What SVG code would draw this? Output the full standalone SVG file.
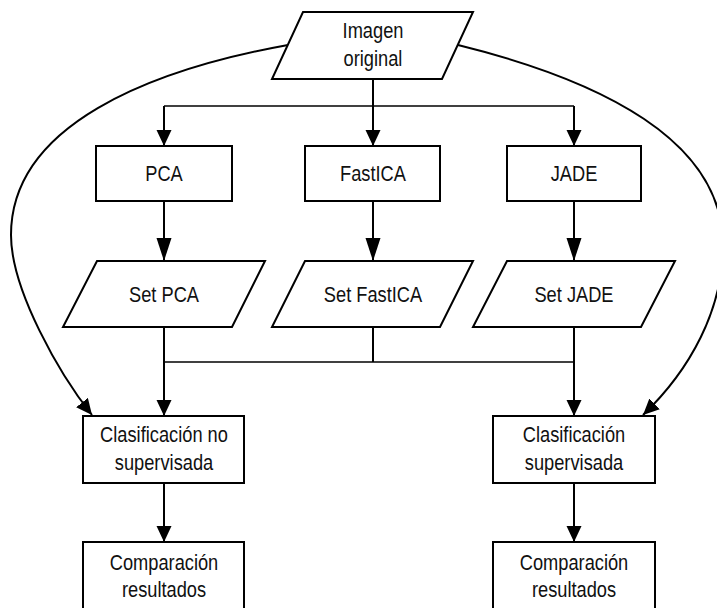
<svg xmlns="http://www.w3.org/2000/svg" width="717" height="608" viewBox="0 0 717 608">
  <style>
    .shape { fill: #ffffff; stroke: #000000; stroke-width: 2; }
    .label { font-family: "Liberation Sans Narrow", "Liberation Sans", "Arial", sans-serif; font-size: 22px; fill: #111111; text-anchor: middle; }
    .wire { fill: none; stroke: #000000; stroke-width: 2; }
    .bus { fill: none; stroke: #000000; stroke-width: 1.5; }
  </style>
  <defs>
    <marker id="arrow" markerUnits="userSpaceOnUse" markerWidth="17" markerHeight="16" refX="16" refY="7.5" orient="auto">
      <path d="M0,0 L16,7.5 L0,15 z" fill="#000000"/>
    </marker>
    <marker id="arrowLong" markerUnits="userSpaceOnUse" markerWidth="24" markerHeight="16" refX="23" refY="7.5" orient="auto">
      <path d="M0,0 L23,7.5 L0,15 z" fill="#000000"/>
    </marker>
  </defs>

  <rect width="717" height="608" fill="#ffffff"/>

  <g id="connectors">
    <!-- input image to the three decompositions -->
    <path class="wire" d="M373,79 L373,146" marker-end="url(#arrow)"/>
    <path class="bus" d="M164,106 L574,106"/>
    <path class="wire" d="M164,106 L164,146" marker-end="url(#arrow)"/>
    <path class="wire" d="M574,106 L574,146" marker-end="url(#arrow)"/>

    <!-- decompositions to their component sets -->
    <path class="wire" d="M164,201 L164,261" marker-end="url(#arrowLong)"/>
    <path class="wire" d="M373,201 L373,261" marker-end="url(#arrowLong)"/>
    <path class="wire" d="M574,201 L574,261" marker-end="url(#arrowLong)"/>

    <!-- component sets merged into both classifiers -->
    <path class="wire" d="M373,327 L373,362"/>
    <path class="bus" d="M164,362 L574,362"/>
    <path class="wire" d="M164,327 L164,416" marker-end="url(#arrow)"/>
    <path class="wire" d="M574,327 L574,416" marker-end="url(#arrow)"/>

    <!-- original image fed directly to each classifier -->
    <path class="wire" d="M288,45 C150,70 11,125 11,235 C11,290 60,375 92,415" marker-end="url(#arrow)"/>
    <path class="wire" d="M458,45 C600,80 723,140 723,245 C723,310 690,370 643,415" marker-end="url(#arrow)"/>

    <!-- classifiers to result comparison -->
    <path class="wire" d="M164,483 L164,542" marker-end="url(#arrow)"/>
    <path class="wire" d="M574,483 L574,542" marker-end="url(#arrow)"/>
  </g>

  <!-- labels use a horizontally condensed sans face -->
  <g id="imagen-original">
    <polygon class="shape" points="303,12 473,12 442,79 272,79"/>
    <text class="label" transform="translate(373,38) scale(0.83,1)">Imagen</text>
    <text class="label" transform="translate(373,66) scale(0.83,1)">original</text>
  </g>

  <g id="pca">
    <rect class="shape" x="96" y="146" width="136" height="55"/>
    <text class="label" transform="translate(164,181) scale(0.83,1)">PCA</text>
  </g>
  <g id="fastica">
    <rect class="shape" x="305" y="146" width="135" height="55"/>
    <text class="label" transform="translate(373,181) scale(0.83,1)">FastICA</text>
  </g>
  <g id="jade">
    <rect class="shape" x="507" y="146" width="134" height="55"/>
    <text class="label" transform="translate(574,181) scale(0.83,1)">JADE</text>
  </g>

  <g id="set-pca">
    <polygon class="shape" points="97,261 265,261 232,327 63,327"/>
    <text class="label" transform="translate(164,302) scale(0.83,1)">Set PCA</text>
  </g>
  <g id="set-fastica">
    <polygon class="shape" points="305,261 473,261 440,327 272,327"/>
    <text class="label" transform="translate(373,302) scale(0.83,1)">Set FastICA</text>
  </g>
  <g id="set-jade">
    <polygon class="shape" points="507,261 675,261 641,327 473,327"/>
    <text class="label" transform="translate(574,302) scale(0.83,1)">Set JADE</text>
  </g>

  <g id="clasificacion-no-supervisada">
    <rect class="shape" x="83" y="416" width="161" height="67"/>
    <text class="label" transform="translate(164,442) scale(0.83,1)">Clasificación no</text>
    <text class="label" transform="translate(164,470) scale(0.83,1)">supervisada</text>
  </g>
  <g id="clasificacion-supervisada">
    <rect class="shape" x="493" y="416" width="162" height="67"/>
    <text class="label" transform="translate(574,442) scale(0.83,1)">Clasificación</text>
    <text class="label" transform="translate(574,470) scale(0.83,1)">supervisada</text>
  </g>

  <g id="comparacion-no-supervisada">
    <rect class="shape" x="83" y="542" width="161" height="72"/>
    <text class="label" transform="translate(164,570) scale(0.83,1)">Comparación</text>
    <text class="label" transform="translate(164,597) scale(0.83,1)">resultados</text>
  </g>
  <g id="comparacion-supervisada">
    <rect class="shape" x="493" y="542" width="162" height="72"/>
    <text class="label" transform="translate(574,570) scale(0.83,1)">Comparación</text>
    <text class="label" transform="translate(574,597) scale(0.83,1)">resultados</text>
  </g>
</svg>
